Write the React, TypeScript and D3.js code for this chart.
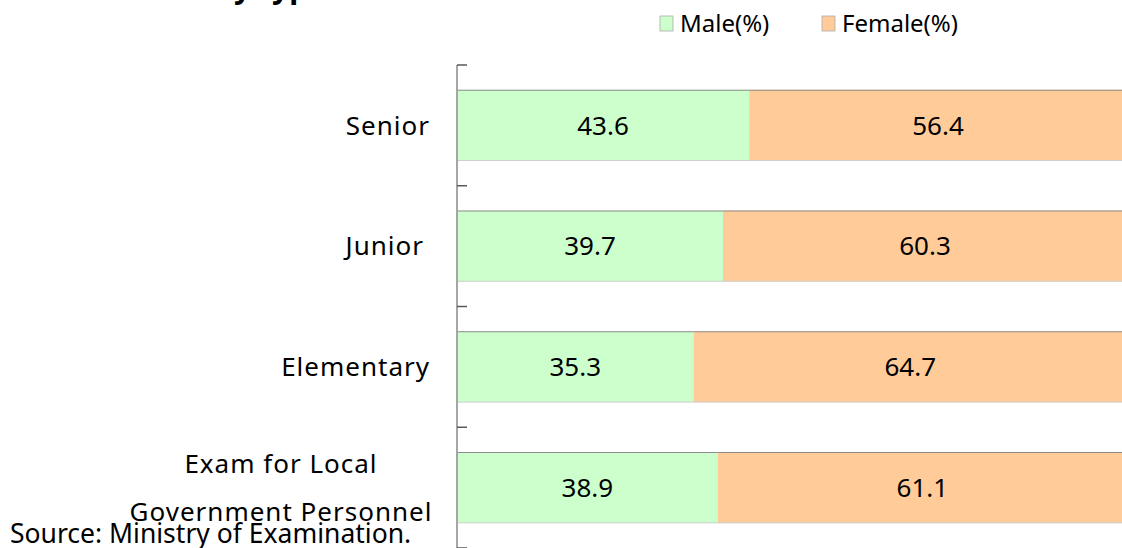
import React from 'react';
import * as d3 from 'd3';

const categories = ['Senior', 'Junior', 'Elementary', 'Exam for Local\nGovernment Personnel'];
const maleValues = [43.6, 39.7, 35.3, 38.9];
const femaleValues = [56.4, 60.3, 64.7, 61.1];
const seriesNames = ['Male(%)', 'Female(%)'];
const seriesColors = ['#ccffcc', '#ffcc99'];

const W = 1122;
const H = 548;
const font = "'Noto Sans', sans-serif";

const App = () => {
  const x = d3.scaleLinear().domain([0, 100]).range([457, 1127]);
  const y = d3
    .scaleBand()
    .domain(categories)
    .range([65, 548])
    .paddingInner(0.41)
    .paddingOuter(0.205);
  const step = y.step();

  const stack = d3.stack().keys(['male', 'female']);
  const rows = categories.map((c, i) => ({ cat: c, male: maleValues[i], female: femaleValues[i] }));
  const series = stack(rows as any);

  return (
    <svg width={W} height={H} style={{ position: 'absolute', left: 0, top: 0 }} fontFamily={font}>
      {/* title, cut off above the picture: only descenders show */}
      <text x={326} y={-2} textAnchor="end" fontSize={30} fontWeight="bold" fill="#000">
        Successful Candidates by type
      </text>

      {/* legend */}
      {seriesNames.map((name, i) => {
        const lx = i === 0 ? 660 : 822;
        return (
          <g key={name}>
            <rect x={lx} y={16} width={13} height={15} fill={seriesColors[i]} stroke="#aaa" strokeWidth={0.8} />
            <text x={lx + 20} y={32} fontSize={24} fill="#000">{name}</text>
          </g>
        );
      })}

      {/* bars */}
      {series.map((s, si) =>
        s.map((d: any, i) => {
          const y0 = y(categories[i])!;
          const bw = y.bandwidth();
          const x0 = x(d[0]);
          const x1 = x(d[1]);
          return (
            <g key={`${si}-${i}`}>
              <rect x={x0} y={y0} width={x1 - x0} height={bw} fill={seriesColors[si]} />
              <line x1={x0} x2={x1} y1={y0 + 0.5} y2={y0 + 0.5} stroke="#8c8c8c" strokeWidth={1.2} />
              <line x1={x0} x2={x1} y1={y0 + bw - 0.5} y2={y0 + bw - 0.5} stroke="#d0d0d0" strokeWidth={1.2} />
              <text
                x={(x0 + x1) / 2}
                y={y0 + bw / 2}
                dy="0.36em"
                textAnchor="middle"
                fontSize={26}
                fill="#000"
              >
                {(si === 0 ? maleValues[i] : femaleValues[i]).toFixed(1)}
              </text>
            </g>
          );
        })
      )}

      {/* axis */}
      <line x1={457} x2={457} y1={65} y2={H} stroke="#a6a6a6" strokeWidth={2} />
      {d3.range(categories.length + 1).map((k) => (
        <line key={k} x1={457} x2={467} y1={65 + k * step} y2={65 + k * step} stroke="#595959" strokeWidth={1.5} />
      ))}

      {/* category labels */}
      {categories.map((c) => {
        const cy = y(c)! + y.bandwidth() / 2;
        const lines = c.split('\n');
        if (lines.length === 1) {
          return (
            <text key={c} x={c === 'Junior' ? 424 : 430} y={cy} dy="0.36em" textAnchor="end" fontSize={26} letterSpacing={1} fill="#000">
              {c}
            </text>
          );
        }
        return (
          <text key={c} x={281} textAnchor="middle" fontSize={26} letterSpacing={1} fill="#000">
            {lines.map((l, li) => (
              <tspan key={li} x={281} y={cy - 15 + li * 48}>{l}</tspan>
            ))}
          </text>
        );
      })}

      <text x={10} y={543} fontSize={26.5} fill="#000">Source: Ministry of Examination.</text>
    </svg>
  );
};

export default App;
